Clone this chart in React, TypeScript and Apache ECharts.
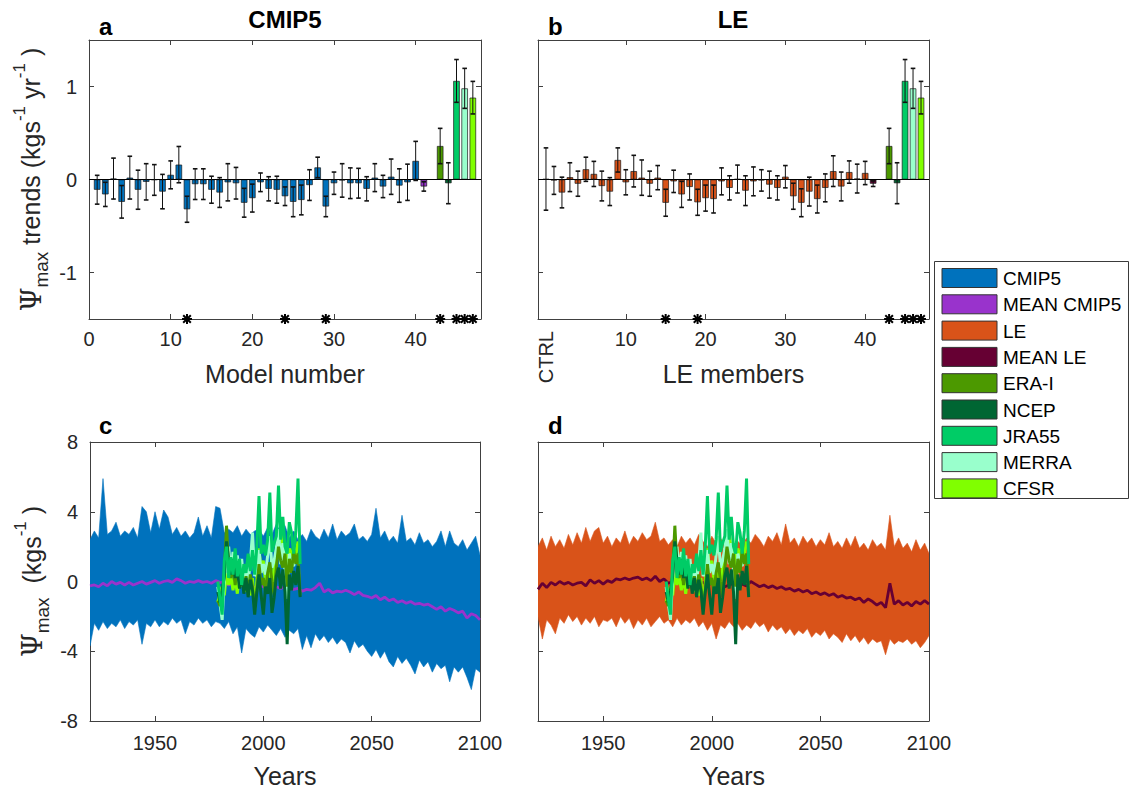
import React, { useEffect, useRef } from "react";
import * as echarts from "echarts";

// ---------------- data ----------------
// Panel a: CMIP5 model trends (models 1..40) and error half-widths
const cmip5Trend = [
  -0.11, -0.16, 0.01, -0.24, 0.02, -0.11, -0.025, -0.005, -0.13, 0.05,
  0.16, -0.32, -0.05, -0.05, -0.11, -0.14, -0.03, -0.04, -0.25, -0.2,
  -0.03, -0.1, -0.11, -0.18, -0.24, -0.22, -0.06, 0.13, -0.29, -0.04,
  -0.01, -0.04, -0.04, -0.1, 0.02, -0.075, 0.03, -0.065, -0.03, 0.2,
];
const cmip5Err = [
  0.155, 0.13, 0.22, 0.175, 0.23, 0.21, 0.195, 0.165, 0.185, 0.15,
  0.195, 0.14, 0.165, 0.165, 0.145, 0.16, 0.2, 0.17, 0.155, 0.15,
  0.1, 0.13, 0.145, 0.1, 0.16, 0.16, 0.165, 0.11, 0.11, 0.12,
  0.18, 0.165, 0.16, 0.13, 0.15, 0.12, 0.19, 0.18, 0.195, 0.21,
];
const cmip5MeanTrend = -0.075;
const cmip5MeanErr = 0.05;

// Panel b: LE members (1..40), CTRL and mean
const leCtrlTrend = 0.005;
const leCtrlErr = 0.335;
const leTrend = [
  -0.01, -0.14, 0.025, -0.045, 0.11, 0.06, -0.07, -0.13, 0.21, -0.03,
  0.09, 0.02, -0.045, 0.02, -0.25, -0.02, -0.16, -0.08, -0.245, -0.2,
  -0.21, -0.02, -0.09, 0.005, -0.12, -0.02, -0.01, -0.055, -0.09, 0.03,
  -0.18, -0.25, -0.13, -0.21, -0.09, 0.09, -0.075, 0.08, 0.01, 0.07,
];
const leErr = [
  0.15, 0.165, 0.155, 0.135, 0.13, 0.135, 0.16, 0.15, 0.13, 0.135,
  0.17, 0.19, 0.135, 0.13, 0.145, 0.12, 0.14, 0.14, 0.14, 0.14,
  0.15, 0.145, 0.13, 0.15, 0.16, 0.155, 0.115, 0.145, 0.13, 0.12,
  0.14, 0.15, 0.155, 0.15, 0.15, 0.165, 0.155, 0.12, 0.155, 0.125,
];
const leMeanTrend = -0.045;
const leMeanErr = 0.03;

// Reanalyses (same in both panels)
const reanNames = ["ERA-I", "NCEP", "JRA55", "MERRA", "CFSR"];
const reanTrend = [0.36, -0.04, 1.06, 0.98, 0.88];
const reanErr = [0.19, 0.22, 0.23, 0.215, 0.175];

// significance markers (x positions)
const sigCmip5 = [12, 24, 29, 43, 45, 46, 47];
const sigLe = [15, 19, 43, 45, 46, 47];

// tick values
const xTicksA = [0, 10, 20, 30, 40];
const xTicksB = [10, 20, 30, 40];
const ctrlTick = [0];
const yTicksTop = [-1, 0, 1];
const yearTicks = [1950, 2000, 2050, 2100];
const yTicksBottom = [-8, -4, 0, 4, 8];

// Time-series panels: ensemble envelopes & means, every 2 years from 1920 to 2100
const bandStartYear = 1920;
const bandStep = 2;
const cmip5Upper = [
  2.4, 2.9, 2.5, 5.9, 2.7, 2.9, 3.4, 2.6, 2.9, 2.7,
  3.1, 2.5, 4.3, 4.0, 2.8, 4.0, 3.0, 4.1, 3.7, 2.7,
  3.1, 2.6, 2.9, 2.5, 2.8, 3.7, 2.6, 3.2, 2.5, 4.3,
  4.2, 2.8, 3.0, 2.8, 3.2, 2.6, 3.0, 2.7, 2.9, 3.0,
  2.6, 3.1, 2.7, 3.3, 2.8, 3.2, 2.5, 2.9, 2.4, 2.7,
  2.3, 3.0, 2.6, 2.4, 3.0, 2.5, 3.3, 2.4, 2.9, 2.6,
  2.8, 3.3, 2.4, 2.6, 2.3, 2.7, 4.2, 2.5, 2.9, 2.3,
  2.6, 2.2, 3.8, 2.3, 2.5, 2.1, 2.8, 2.2, 2.4, 2.0,
  2.3, 2.9, 2.0, 2.9, 2.2, 2.0, 2.4, 1.8, 2.2, 2.6,
  1.5,
];
const cmip5Lower = [
  -3.7, -2.4, -2.8, -2.3, -2.7, -2.4, -2.6, -2.2, -2.7, -2.3,
  -2.5, -2.2, -3.6, -2.4, -2.6, -2.2, -2.6, -2.3, -2.5, -2.1,
  -2.4, -2.2, -3.0, -2.3, -2.5, -2.1, -2.4, -2.2, -2.6, -2.3,
  -2.4, -2.7, -2.3, -3.0, -2.6, -4.1, -2.7, -3.0, -3.2, -2.6,
  -2.9, -2.5, -2.8, -3.1, -2.7, -3.2, -2.8, -3.0, -2.7, -3.9,
  -3.1, -3.8, -3.0, -3.4, -3.1, -3.5, -3.2, -3.6, -3.3, -3.5,
  -4.1, -3.4, -3.8, -3.6, -4.0, -4.3, -3.9, -4.4, -4.0, -4.6,
  -4.9, -4.3, -4.7, -4.4, -4.8, -5.3, -4.5, -4.9, -4.6, -5.2,
  -4.7, -5.0, -4.8, -5.75, -4.9, -5.2, -4.9, -5.5, -6.2, -5.0,
  -5.2,
];
const cmip5MeanLine = [
  -0.25, -0.2, -0.3, -0.1, -0.25, 0.0, -0.15, -0.05, -0.2, -0.05,
  -0.2, -0.1, 0.0, -0.15, -0.05, 0.05, -0.1, 0.0, 0.05, -0.05,
  0.15, 0.05, -0.1, 0.0, -0.05, 0.05, -0.05, 0.0, -0.1, 0.05,
  -0.05, -0.1, -0.2, -0.1, -0.25, -0.15, -0.3, -0.2, -0.35, -0.25,
  -0.3, -0.2, -0.35, -0.3, -0.4, -0.3, -0.35, -0.45, -0.4, -0.55,
  -0.45, -0.5, -0.35, -0.1, -0.6, -0.45, -0.65, -0.55, -0.6, -0.5,
  -0.6, -0.75, -0.6, -0.8, -0.85, -0.95, -0.8, -1.05, -0.9, -1.1,
  -1.0, -1.2, -1.1, -1.25, -1.15, -1.3, -1.25, -1.35, -1.3, -1.45,
  -1.6, -1.45, -1.7, -1.55, -1.65, -1.8, -1.7, -2.1, -1.85, -1.95,
  -2.2,
];
const leUpper = [
  2.0, 2.5, 1.8, 2.6, 2.0, 2.4, 1.9, 2.7, 2.1, 2.8,
  2.2, 3.1, 2.3, 2.9, 3.1, 2.2, 2.6, 2.0, 2.5, 2.2,
  2.9, 2.1, 2.6, 2.3, 2.8, 2.4, 2.6, 3.4, 2.3, 2.5,
  2.1, 2.4, 2.0, 2.6, 2.2, 2.5, 2.1, 2.7, 2.3, 2.0,
  2.6, 2.2, 2.5, 2.1, 2.4, 2.0, 2.3, 2.1, 2.5, 2.2,
  2.7, 2.4, 2.0, 2.6, 2.3, 2.8, 2.1, 3.3, 2.2, 2.5,
  2.0, 2.6, 2.2, 2.5, 2.0, 2.4, 2.1, 2.8, 2.0, 2.3,
  1.9, 2.5, 2.0, 2.6, 1.9, 2.2, 1.8, 2.4, 2.0, 2.2,
  1.8, 3.8, 2.0, 2.5, 1.9, 2.2, 1.7, 2.4, 1.8, 2.2,
  1.6,
];
const leLower = [
  -2.0, -3.3, -2.2, -2.5, -3.0, -2.1, -2.4, -1.9, -2.3, -2.0,
  -2.5, -2.1, -2.4, -2.0, -2.6, -2.2, -2.3, -2.1, -2.6, -2.0,
  -2.4, -2.1, -2.7, -2.2, -2.5, -2.1, -2.6, -2.3, -2.0, -2.4,
  -2.2, -2.6, -2.1, -2.5, -2.2, -2.4, -2.1, -2.6, -2.3, -2.8,
  -2.4, -3.3, -2.5, -2.7, -2.3, -2.6, -2.4, -2.8, -2.5, -2.7,
  -2.3, -2.6, -2.4, -2.9, -2.5, -2.8, -2.6, -3.0, -2.7, -3.1,
  -2.8, -3.0, -2.7, -3.2, -2.9, -3.1, -2.8, -3.3, -3.0, -3.2,
  -3.5, -3.0, -3.4, -3.1, -3.5, -3.2, -3.6, -3.3, -3.5, -3.4,
  -4.2, -3.3, -3.6, -3.4, -3.5, -3.3, -3.6, -3.4, -3.8, -3.5,
  -3.1,
];
const leMeanLine = [
  -0.45, -0.1, -0.35, -0.05, -0.2, 0.0, -0.15, -0.05, -0.2, -0.1,
  -0.05, -0.25, 0.1, -0.1, 0.05, -0.15, 0.05, -0.05, 0.15, 0.1,
  0.2, 0.1, 0.2, 0.25, 0.1, 0.2, 0.05, 0.3, 0.0, 0.15,
  -0.1, 0.0, -0.1, 0.05, -0.15, 0.0, -0.1, -0.2, -0.05, -0.2,
  -0.1, -0.25, -0.15, -0.3, -0.2, -0.1, -0.3, -0.15, -0.25, 0.0,
  -0.15, -0.3, -0.2, -0.35, -0.25, -0.4, -0.3, -0.45, -0.4, -0.55,
  -0.45, -0.6, -0.5, -0.7, -0.6, -0.75, -0.65, -0.8, -0.7, -0.9,
  -0.8, -0.95, -0.9, -1.05, -0.95, -1.2, -1.0, -1.15, -1.35, -1.2,
  -1.5, -0.1, -1.3, -1.1, -1.35, -1.2, -1.4, -1.15, -1.3, -1.1,
  -1.3,
];

// Reanalysis yearly series, starting 1979
const reanStartYear = 1979;
const eraI = [
  -1.1, -1.4, -0.9, 0.5, 3.2, 0.8, 0.2, 1.0, -0.2, 0.9,
  0.1, 0.6, -0.4, 0.3, -0.6, 0.4, -0.3, -1.6, -0.5, 1.0,
  -0.2, 0.2, -0.6, 0.5, 1.1, 0.0, -0.8, 0.8, 2.0, 1.2,
  0.8, 1.6, -0.3, 1.3, 0.5, 1.8, 1.0, 1.6, -0.8,
];
const ncep = [
  -0.6, -1.2, -0.5, 0.3, 2.3, 1.2, 0.4, 1.3, 0.2, 0.8,
  -0.4, 0.5, -0.7, 0.2, -0.9, 0.1, -0.5, -1.9, -0.6, 0.4,
  -0.8, -1.9, -0.3, -0.7, 0.2, -1.8, -0.9, 0.3, 0.8, -0.4,
  0.7, -0.6, -3.6, 0.4, -0.5, 0.6, -0.2, 0.9, -0.9,
];
const jra55 = [
  0.0, -1.0, -1.9, 1.2, 2.0, 0.2, 1.4, 0.4, 1.9, 0.3,
  1.3, -0.2, 1.0, 0.5, 1.6, 0.6, 1.8, 0.4, 2.0, 4.9,
  1.6, 2.1, 1.5, 2.4, 5.1, 1.7, 2.2, 2.6, 5.5, 2.4,
  3.7, 2.0, 1.6, 3.4, 2.8, 1.6, 2.9, 5.9, 1.0,
];
const merra = [
  -0.3, -1.3, -2.2, 0.2, 1.0, 2.0, 0.5, 1.7, 0.3, 1.5,
  0.2, 1.3, -0.2, 0.9, 0.0, 1.1, 2.8, 0.3, 0.8, 1.8,
  0.5, 1.0, 0.4, 1.5, 2.6, 0.8, 1.2, 1.9, 3.0, 1.0,
  2.2, 0.6, -1.0, 1.6, 1.0, 0.9, 1.4,
];
const cfsr = [
  -1.2, -0.6, -0.3, -0.8, 0.5, -0.2, 0.3, -0.5, 0.2, -0.7,
  0.4, -0.3, 1.0, -0.6, 0.3, -0.8, 0.2, -1.6, 0.0, 1.9,
  0.6, 1.2, 0.0, 0.8, 0.5, -0.4, 0.9, 1.6, 2.6, 3.0,
  1.5, 2.2, 0.8, 1.9, 1.4, 2.0, 1.5, 2.3,
];

const legendNames = ["CMIP5", "MEAN CMIP5", "LE", "MEAN LE", "ERA-I", "NCEP", "JRA55", "MERRA", "CFSR"];

// ---------------- styles ----------------
const FONT = '"Liberation Sans", Arial, Helvetica, sans-serif';
const SERIF = '"DejaVu Serif", "Liberation Serif", serif';
const TXT = "#262626";
const AX = "#404040";
const C_CMIP5 = "#0072BD";
const C_MEANCMIP5 = "#9933CC";
const C_LE = "#D95319";
const C_MEANLE = "#660033";
const reanColors = ["#4C9900", "#006633", "#00CC66", "#99FFCC", "#80FF00"];
const legendColors = [C_CMIP5, C_MEANCMIP5, C_LE, C_MEANLE, ...reanColors];

// ---------------- helpers ----------------
const plainNum = (v: number) => String(v);

function xAxes(grid: number, min: number, max: number, ticks: number[], showLabels: boolean, name: string, nameGap: number, labelMargin: number) {
  const line = { show: true, onZero: false, lineStyle: { color: AX, width: 1 } };
  const tick = { show: true, inside: true, length: 5, customValues: ticks, lineStyle: { color: AX, width: 1 } };
  return [
    {
      type: "value", gridIndex: grid, min, max, position: "bottom",
      axisLine: line, axisTick: tick,
      axisLabel: { show: showLabels, customValues: ticks, formatter: plainNum, color: TXT, fontSize: 20, fontFamily: FONT, margin: labelMargin },
      splitLine: { show: false },
      name, nameLocation: "middle", nameGap,
      nameTextStyle: { fontSize: 25, color: TXT, fontFamily: FONT },
    },
    {
      type: "value", gridIndex: grid, min, max, position: "top",
      axisLine: line, axisTick: tick, axisLabel: { show: false }, splitLine: { show: false },
    },
  ];
}

function yAxes(grid: number, min: number, max: number, ticks: number[], showLabels: boolean, name: any, nameGap: number, rich: any) {
  const line = { show: true, onZero: false, lineStyle: { color: AX, width: 1 } };
  const tick = { show: true, inside: true, length: 5, customValues: ticks, lineStyle: { color: AX, width: 1 } };
  return [
    {
      type: "value", gridIndex: grid, min, max, position: "left",
      axisLine: line, axisTick: tick,
      axisLabel: { show: showLabels, customValues: ticks, formatter: plainNum, color: TXT, fontSize: 20, fontFamily: FONT, margin: 12 },
      splitLine: { show: false },
      name: name || "", nameLocation: "middle", nameGap, nameRotate: 90,
      nameTextStyle: { color: TXT, fontFamily: FONT, rich: rich || {} },
    },
    {
      type: "value", gridIndex: grid, min, max, position: "right",
      axisLine: line, axisTick: tick, axisLabel: { show: false }, splitLine: { show: false },
    },
  ];
}

function errorSeries(xi: number, yi: number, data: number[][]) {
  return {
    type: "custom", xAxisIndex: xi, yAxisIndex: yi, z: 5,
    data, encode: { x: 0, y: 1 },
    renderItem: (_p: any, api: any) => {
      const x = api.value(0), y = api.value(1), e = api.value(2);
      const a = api.coord([x, y + e]);
      const b = api.coord([x, y - e]);
      const cw = 2.3;
      const st = { stroke: "#111", lineWidth: 1 };
      return {
        type: "group",
        children: [
          { type: "line", shape: { x1: a[0], y1: a[1], x2: b[0], y2: b[1] }, style: st },
          { type: "line", shape: { x1: a[0] - cw, y1: a[1], x2: a[0] + cw, y2: a[1] }, style: { stroke: "#111", lineWidth: 1.6 } },
          { type: "line", shape: { x1: b[0] - cw, y1: b[1], x2: b[0] + cw, y2: b[1] }, style: { stroke: "#111", lineWidth: 1.6 } },
        ],
      };
    },
  };
}

function starSeries(xi: number, yi: number, xs: number[], yBase: number) {
  return {
    type: "custom", xAxisIndex: xi, yAxisIndex: yi, z: 6, clip: false,
    data: xs.map((x) => [x, yBase]), encode: { x: 0, y: 1 },
    renderItem: (_p: any, api: any) => {
      const p = api.coord([api.value(0), api.value(1)]);
      const r = 5, d = 3.8;
      const st = { stroke: "#000", lineWidth: 2 };
      return {
        type: "group",
        children: [
          { type: "line", shape: { x1: p[0] - r, y1: p[1], x2: p[0] + r, y2: p[1] }, style: st },
          { type: "line", shape: { x1: p[0], y1: p[1] - r, x2: p[0], y2: p[1] + r }, style: st },
          { type: "line", shape: { x1: p[0] - d, y1: p[1] - d, x2: p[0] + d, y2: p[1] + d }, style: st },
          { type: "line", shape: { x1: p[0] - d, y1: p[1] + d, x2: p[0] + d, y2: p[1] - d }, style: st },
        ],
      };
    },
  };
}

function bandSeries(xi: number, yi: number, upper: number[], lower: number[], color: string) {
  return {
    type: "custom", xAxisIndex: xi, yAxisIndex: yi, z: 2, clip: true,
    data: [[bandStartYear, 0]], encode: { x: 0, y: 1 },
    renderItem: (_p: any, api: any) => {
      const pts: number[][] = [];
      for (let i = 0; i < upper.length; i++) pts.push(api.coord([bandStartYear + i * bandStep, upper[i]]));
      for (let i = lower.length - 1; i >= 0; i--) pts.push(api.coord([bandStartYear + i * bandStep, lower[i]]));
      return { type: "polygon", shape: { points: pts }, style: { fill: color, stroke: color, lineWidth: 0.6 } };
    },
  };
}

function lineSeries(xi: number, yi: number, start: number, step: number, vals: number[], color: string, width: number, z: number) {
  return {
    type: "line", xAxisIndex: xi, yAxisIndex: yi, z,
    showSymbol: false, symbol: "none", silent: true,
    data: vals.map((v, i) => [start + i * step, v]),
    lineStyle: { color, width },
  };
}

const reanSeriesData = [eraI, ncep, jra55, merra, cfsr];
const reanDrawOrder = [4, 3, 0, 1, 2]; // CFSR, MERRA, ERA-I, NCEP, JRA55 on top

function barSeries(xi: number, yi: number, data: any[]) {
  return {
    type: "bar", xAxisIndex: xi, yAxisIndex: yi, z: 3, barWidth: 6.5, silent: true,
    data,
    itemStyle: { borderColor: "#1a1a1a", borderWidth: 0.7 },
    markLine: {
      silent: true, symbol: ["none", "none"], label: { show: false },
      lineStyle: { color: "#000", width: 1, type: "solid" },
      data: [{ yAxis: 0 }],
    },
  };
}

export default function App() {
  const ref = useRef<HTMLDivElement>(null);
  useEffect(() => {
    if (!ref.current) return;
    const chart = echarts.init(ref.current, undefined, { renderer: "svg" });

    const barsA = [
      ...cmip5Trend.map((v, i) => ({ value: [i + 1, v], itemStyle: { color: C_CMIP5 } })),
      { value: [41, cmip5MeanTrend], itemStyle: { color: C_MEANCMIP5 } },
      ...reanTrend.map((v, i) => ({ value: [43 + i, v], itemStyle: { color: reanColors[i] } })),
    ];
    const errA = [
      ...cmip5Trend.map((v, i) => [i + 1, v, cmip5Err[i]]),
      [41, cmip5MeanTrend, cmip5MeanErr],
      ...reanTrend.map((v, i) => [43 + i, v, reanErr[i]]),
    ];
    const barsB = [
      { value: [0, leCtrlTrend], itemStyle: { color: C_LE } },
      ...leTrend.map((v, i) => ({ value: [i + 1, v], itemStyle: { color: C_LE } })),
      { value: [41, leMeanTrend], itemStyle: { color: C_MEANLE } },
      ...reanTrend.map((v, i) => ({ value: [43 + i, v], itemStyle: { color: reanColors[i] } })),
    ];
    const errB = [
      [0, leCtrlTrend, leCtrlErr],
      ...leTrend.map((v, i) => [i + 1, v, leErr[i]]),
      [41, leMeanTrend, leMeanErr],
      ...reanTrend.map((v, i) => [43 + i, v, reanErr[i]]),
    ];

    const richA = {
      psi: { fontFamily: SERIF, fontSize: 27, lineHeight: 40, color: TXT },
      sub: { fontFamily: FONT, fontSize: 19, lineHeight: 19, verticalAlign: "bottom", color: TXT },
      n: { fontFamily: FONT, fontSize: 25, lineHeight: 40, color: TXT },
      sup: { fontFamily: FONT, fontSize: 17, lineHeight: 17, verticalAlign: "top", color: TXT },
    };

    const ctrlAxis = {
      type: "value", gridIndex: 1, min: -1, max: 48, position: "bottom",
      axisLine: { show: false }, axisTick: { show: false }, splitLine: { show: false },
      axisLabel: { show: true, customValues: ctrlTick, rotate: 90, formatter: () => "CTRL", color: TXT, fontSize: 20, fontFamily: FONT, margin: 12 },
    };

    const xAxis = [
      ...xAxes(0, 0, 48, xTicksA, true, "Model number", 42, 10),
      ...xAxes(1, -1, 48, xTicksB, true, "LE members", 42, 10),
      ctrlAxis,
      ...xAxes(2, 1920, 2100, yearTicks, true, "Years", 42, 12),
      ...xAxes(3, 1920, 2100, yearTicks, true, "Years", 42, 12),
    ];
    const yAxis = [
      ...yAxes(0, -1.5, 1.5, yTicksTop, true, "{psi|Ψ}{sub|max}{n| trends (kgs}{sup|-1}{n| yr}{sup|-1}{n| )}", 38, richA),
      ...yAxes(1, -1.5, 1.5, yTicksTop, false, "", 0, null),
      ...yAxes(2, -8, 8, yTicksBottom, true, "{psi|Ψ}{sub|max}{n|  (kgs}{sup|-1}{n| )}", 38, richA),
      ...yAxes(3, -8, 8, yTicksBottom, false, "", 0, null),
    ];

    const series: any[] = [
      barSeries(0, 0, barsA),
      errorSeries(0, 0, errA),
      starSeries(0, 0, sigCmip5, -1.5),
      barSeries(2, 2, barsB),
      errorSeries(2, 2, errB),
      starSeries(2, 2, sigLe, -1.5),
      bandSeries(5, 4, cmip5Upper, cmip5Lower, C_CMIP5),
      lineSeries(5, 4, bandStartYear, bandStep, cmip5MeanLine, C_MEANCMIP5, 2.8, 4),
      bandSeries(7, 6, leUpper, leLower, C_LE),
      lineSeries(7, 6, bandStartYear, bandStep, leMeanLine, C_MEANLE, 2.8, 4),
    ];
    for (const [xi, yi] of [[5, 4], [7, 6]]) {
      reanDrawOrder.forEach((k, j) => {
        series.push(lineSeries(xi, yi, reanStartYear, 1, reanSeriesData[k], reanColors[k], 3, 5 + j));
      });
    }

    const txt = (x: number, y: number, text: string, size: number, bold: boolean, align = "left") => ({
      type: "text", x, y, silent: true,
      style: { text, fontSize: size, fontWeight: bold ? "bold" : "normal", fontFamily: FONT, fill: "#000", align, verticalAlign: "middle" },
    });

    const legendEls: any[] = [
      { type: "rect", shape: { x: 934.5, y: 261.5, width: 194, height: 237 }, style: { fill: "#fff", stroke: "#3a3a3a", lineWidth: 1 }, silent: true },
    ];
    legendNames.forEach((nm, i) => {
      const y0 = 268.5 + i * 26.3;
      legendEls.push({ type: "rect", shape: { x: 942, y: y0, width: 55, height: 19 }, style: { fill: legendColors[i], stroke: "#333", lineWidth: 1 }, silent: true });
      legendEls.push(txt(1003, y0 + 10, nm, 19, false));
    });

    chart.setOption({
      animation: false,
      backgroundColor: "#fff",
      grid: [
        { left: 89, top: 40, width: 392, height: 279 },
        { left: 538, top: 40, width: 391, height: 279 },
        { left: 90, top: 442, width: 390, height: 279 },
        { left: 538, top: 442, width: 391, height: 279 },
      ],
      xAxis,
      yAxis,
      series,
      graphic: [
        txt(285, 19, "CMIP5", 24, true, "center"),
        txt(733, 19, "LE", 24, true, "center"),
        txt(99, 26, "a", 24, true),
        txt(548, 26, "b", 24, true),
        txt(99, 425, "c", 24, true),
        txt(548, 425, "d", 24, true),
        ...legendEls,
      ],
    });
    return () => chart.dispose();
  }, []);
  return <div ref={ref} style={{ position: "absolute", left: 0, top: 0, width: 1130, height: 791, background: "#fff" }} />;
}
